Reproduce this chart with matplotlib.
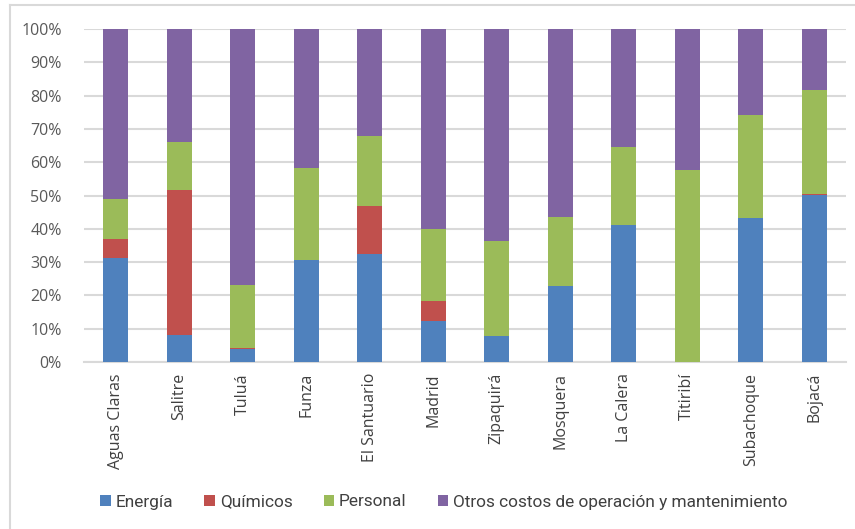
import matplotlib
matplotlib.use("Agg")
import matplotlib.pyplot as plt
from matplotlib.lines import Line2D
from matplotlib.patches import Patch
import numpy as np

categories = ["Aguas Claras", "Salitre", "Tuluá", "Funza", "El Santuario", "Madrid",
              "Zipaquirá", "Mosquera", "La Calera", "Titiribí", "Subachoque", "Bojacá"]
energia =   [31.3,  8.2,  3.8, 30.7, 32.5, 12.2,  7.9, 22.8, 41.0,  0.0, 43.1, 50.2]
quimicos =  [ 5.5, 43.5,  0.3,  0.0, 14.3,  6.1,  0.0,  0.0,  0.0,  0.0,  0.0,  0.3]
personal =  [12.2, 14.5, 19.0, 27.7, 21.0, 21.7, 28.3, 20.6, 23.7, 57.7, 31.1, 31.3]
otros =     [51.0, 33.8, 76.9, 41.6, 32.2, 60.0, 63.8, 56.6, 35.3, 42.3, 25.8, 18.2]
series_names = ["Energía", "Químicos", "Personal", "Otros costos de operación y mantenimiento"]
colors = ["#4F81BD", "#C0504D", "#9BBB59", "#8064A2"]
yticks = [0, 10, 20, 30, 40, 50, 60, 70, 80, 90, 100]

W, H = 855, 529
fig = plt.figure(figsize=(W / 100, H / 100), dpi=100)
ax = fig.add_axes([84 / W, 1 - 362 / H, (846 - 84) / W, (362 - 29) / H])

x = np.arange(len(categories))
bottom = np.zeros(len(categories))
data = [energia, quimicos, personal, otros]
for vals, c, name in zip(data, colors, series_names):
    vals = np.array(vals, dtype=float)
    ax.bar(x, vals, bottom=bottom, width=0.39, color=c, label=name, zorder=3,
           edgecolor="none")
    bottom += vals

ax.set_xlim(-0.5, len(categories) - 0.5)
ax.set_ylim(0, 100)
ax.set_yticks(yticks)
ax.set_yticklabels([f"{v}%" for v in yticks])
ax.yaxis.grid(True, color="#D9D9D9", linewidth=1.5, zorder=0)
ax.set_axisbelow(True)
for s in ["top", "right", "left"]:
    ax.spines[s].set_visible(False)
ax.spines["bottom"].set_color("#D9D9D9")
ax.spines["bottom"].set_linewidth(1.5)
ax.tick_params(axis="both", length=0, colors="#595959")
ax.tick_params(axis="y", labelsize=11.5, pad=16)
ax.set_xticks(x)
ax.set_xticklabels(categories, rotation=90, fontsize=11.5, color="#404040",
                   fontfamily="Open Sans")
ax.tick_params(axis="x", pad=8)
for lbl in ax.get_yticklabels():
    lbl.set_fontfamily("Open Sans")

handles = [Patch(facecolor=c, edgecolor="none") for c in colors]
leg = fig.legend(handles, series_names, loc="center", bbox_to_anchor=(444 / W, 1 - 502 / H),
                 ncol=4, frameon=False, handlelength=0.6, handleheight=0.6,
                 handletextpad=0.3, columnspacing=1.8,
                 prop={"family": "Roboto", "size": 12.4})
for t in leg.get_texts():
    t.set_color("#404040")

# chart frame lines
fig.add_artist(Line2D([10 / W, 10 / W], [0, 1 - 5 / H], color="#D9D9D9", linewidth=1.5))
fig.add_artist(Line2D([10 / W, 1], [1 - 5 / H, 1 - 5 / H], color="#D9D9D9", linewidth=1.5))

fig.savefig("out.png", dpi=100)
